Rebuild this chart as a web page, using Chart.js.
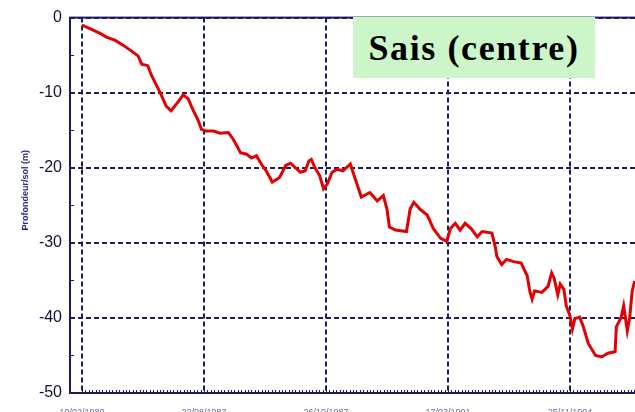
<!DOCTYPE html>
<html>
<head>
<meta charset="utf-8">
<script src="https://cdn.jsdelivr.net/npm/chart.js@4"></script>
<style>
  html, body { margin: 0; padding: 0; background: #fff; overflow: hidden; width: 635px; height: 412px; }
  #wrap { position: relative; width: 660px; height: 425px; }
  #titre {
    position: absolute; left: 353px; top: 17px; width: 242px; height: 61px;
    background: #ccf5c8; color: #000;
    font: bold 36px "Liberation Serif", "DejaVu Serif", serif;
    letter-spacing: 1.6px;
    display: flex; align-items: center; justify-content: center;
  }
</style>
</head>
<body>
<div id="wrap">
  <canvas id="graphe" width="660" height="425"></canvas>
  <div id="titre">Sais (centre)</div>
</div>
<script>
// === DONNEES ===
// rang de la mesure (les dates repères tombent aux rangs 0, 100, 200...)
const rangMesure = [
  0, 7, 16, 20, 27, 34, 41, 46, 49, 54, 57, 61, 65, 69, 73, 78, 83, 87, 91, 95,
  98, 101, 108, 113, 120, 124, 130, 135, 139, 143, 147, 151, 156, 162, 167, 171, 175, 179, 183, 186,
  188, 191, 195, 198, 201, 205, 209, 214, 220, 224, 229, 236, 242, 247, 250, 252, 257, 266, 269, 272,
  277, 283, 288, 294, 299, 302, 306, 310, 314, 319, 324, 328, 336, 339, 340, 344, 348, 354, 360, 365,
  367, 369, 371, 377, 382, 385, 387, 390, 392, 395, 397, 400, 402, 404, 408, 411, 415, 421, 426, 431,
  437, 438, 442, 444, 447, 449, 451, 453
];
// profondeur de la nappe / sol (m)
const profondeur = [
  -1.0, -1.5, -2.2, -2.6, -3.0, -3.7, -4.5, -5.1, -6.2, -6.4, -7.7, -9.0, -10.3, -11.8, -12.4, -11.4, -10.3, -10.8, -12.3, -13.6,
  -14.9, -15.1, -15.1, -15.4, -15.3, -16.2, -18.0, -18.2, -18.7, -18.4, -19.5, -20.4, -21.9, -21.3, -19.7, -19.4, -20.0, -20.6, -20.4, -19.1,
  -18.9, -20.0, -21.1, -22.8, -22.2, -20.6, -20.2, -20.4, -19.5, -21.5, -23.9, -23.3, -24.4, -23.7, -25.5, -27.9, -28.3, -28.5, -25.5, -24.6,
  -25.5, -26.3, -28.1, -29.4, -29.8, -28.1, -27.4, -28.3, -27.4, -28.1, -29.2, -28.5, -28.7, -30.7, -31.8, -32.9, -32.2, -32.5, -32.7, -34.4,
  -36.4, -37.5, -36.4, -36.6, -35.8, -34.0, -34.7, -36.9, -35.5, -36.2, -38.4, -39.7, -41.5, -40.1, -39.9, -41.2, -43.4, -45.0, -45.2, -44.7,
  -44.5, -41.2, -39.9, -38.4, -41.7, -39.9, -36.4, -35.1
];
// graduations de l'axe des dates
const rangsReperes = [0, 100, 200, 300, 400];
const datesReperes = ["19/02/1980", "22/08/1983", "26/10/1987", "17/03/1991", "25/11/1994"];
const graduationsY = [0, -10, -20, -30, -40, -50];

const bleuNuit = "#1c1c5e";

// cadre du graphe + petites graduations intérieures
const cadre = {
  id: "cadre",
  afterDraw(chart) {
    const { ctx, chartArea: a, scales } = chart;
    ctx.save();
    ctx.strokeStyle = bleuNuit;
    ctx.lineWidth = 2;
    ctx.strokeRect(a.left, a.top, a.right - a.left, a.bottom - a.top);
    ctx.lineWidth = 1;
    ctx.beginPath();
    for (let v = -5; v > -50; v -= 10) {
      const y = Math.round(scales.y.getPixelForValue(v)) + 0.5;
      ctx.moveTo(a.left, y);
      ctx.lineTo(a.left + 4, y);
    }
    for (let v = 0; v < scales.x.max; v += 100 / 36) {
      const x = Math.round(scales.x.getPixelForValue(v)) + 0.5;
      ctx.moveTo(x, a.bottom);
      ctx.lineTo(x, a.bottom - 3);
    }
    ctx.stroke();
    ctx.restore();
  }
};

new Chart(document.getElementById("graphe"), {
  type: "line",
  data: {
    datasets: [{
      label: "Sais (centre)",
      data: rangMesure.map((r, i) => ({ x: r, y: profondeur[i] })),
      borderColor: "#e30000",
      borderWidth: 3,
      pointRadius: 0,
      tension: 0,
      fill: false
    }]
  },
  options: {
    responsive: false,
    animation: false,
    layout: { padding: { top: 13, right: 5, left: 0, bottom: 0 } },
    plugins: { legend: { display: false }, tooltip: { enabled: false } },
    scales: {
      x: {
        type: "linear",
        min: -9.8,
        max: 469.7,
        afterBuildTicks(scale) { scale.ticks = rangsReperes.map(v => ({ value: v })); },
        afterFit(scale) { scale.height = 32; },
        ticks: {
          callback: (v) => datesReperes[rangsReperes.indexOf(v)] || "",
          color: "#6a6a98",
          font: { family: "Liberation Sans", size: 9 },
          padding: 14,
          maxRotation: 0,
          autoSkip: false
        },
        grid: { color: bleuNuit, lineWidth: 2, drawTicks: false },
        border: { display: false, dash: [5, 3] }
      },
      y: {
        min: -50,
        max: 0,
        afterBuildTicks(scale) { scale.ticks = graduationsY.map(v => ({ value: v })); },
        afterFit(scale) { scale.width = 70; },
        ticks: {
          color: "#111133",
          font: { family: "Liberation Sans", size: 16 },
          padding: 8
        },
        grid: { color: bleuNuit, lineWidth: 2, drawTicks: false },
        border: { display: false, dash: [5, 3] },
        title: {
          display: true,
          // espaces en tête : le libellé est un peu au-dessus du centre
          text: " ".repeat(12) + "Profondeur/sol (m)",
          color: "#2a2a80",
          font: { family: "Liberation Sans", size: 9, weight: "bold" },
          padding: { top: 20, bottom: 0 }
        }
      }
    }
  },
  plugins: [cadre]
});
</script>
</body>
</html>
